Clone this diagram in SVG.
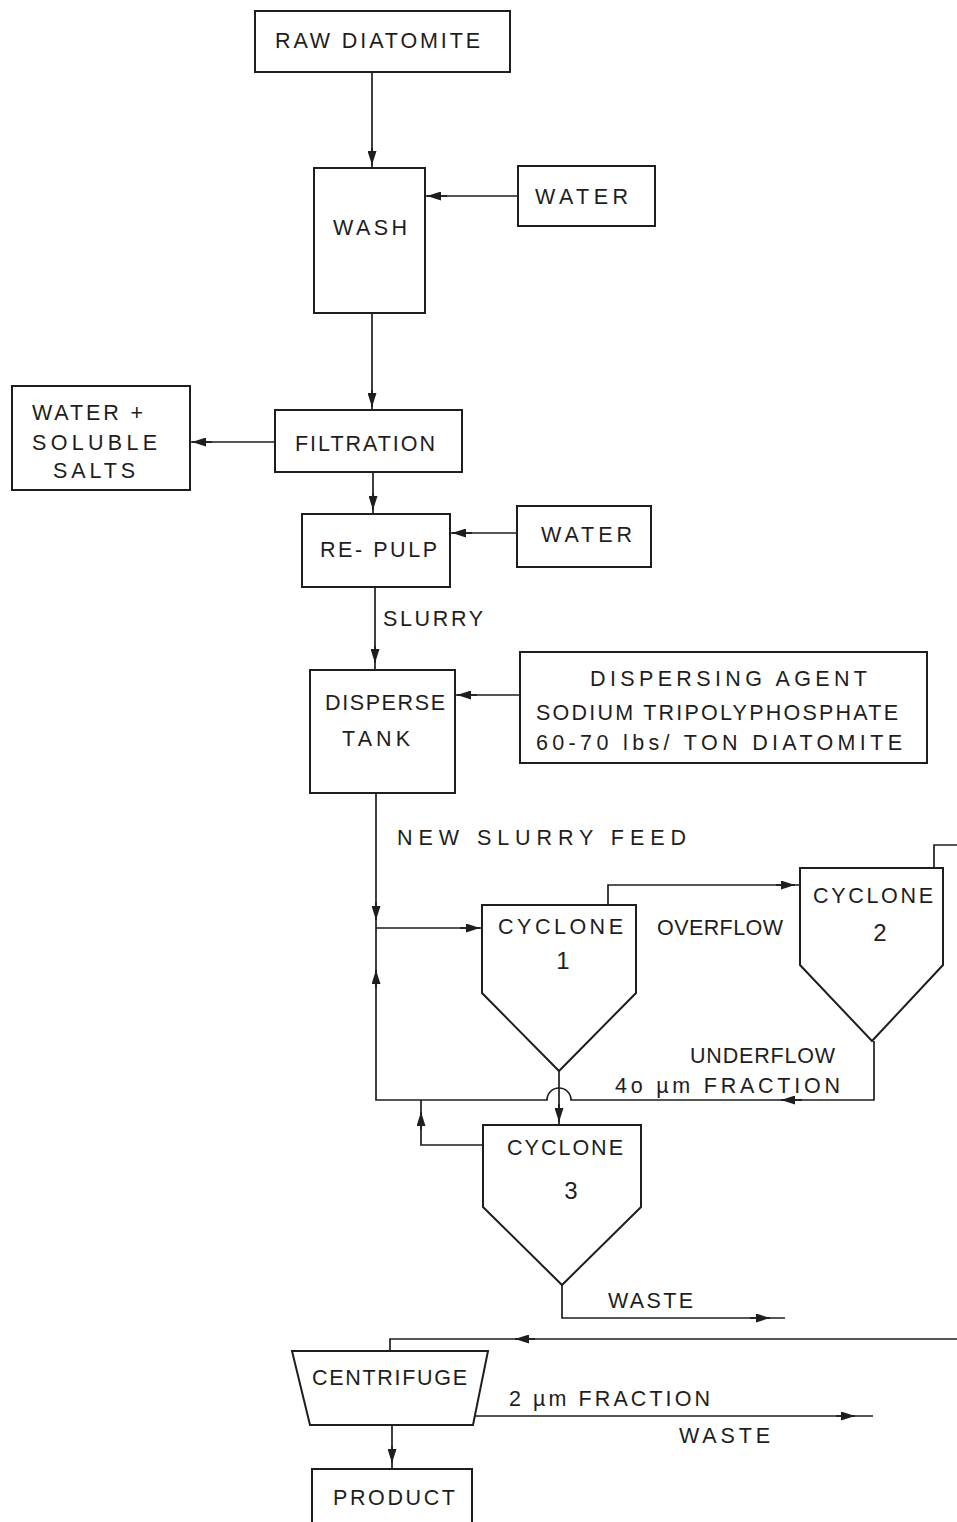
<svg xmlns="http://www.w3.org/2000/svg" width="957" height="1522" viewBox="0 0 957 1522">
<style>
  .bx{fill:#fff;stroke:#1e1e1e;stroke-width:2}
  .ln{fill:none;stroke:#1e1e1e;stroke-width:1.7}
  .ar{fill:none;stroke:#1e1e1e;stroke-width:1.7;marker-end:url(#ah)}
  text{font-family:"Liberation Sans","DejaVu Sans",Arial,sans-serif;font-size:21.5px;fill:#1e1e1e}
  .c{text-anchor:middle}
</style>
<defs>
  <marker id="ah" viewBox="0 0 14 9" refX="14" refY="4.5" markerWidth="14" markerHeight="9" markerUnits="userSpaceOnUse" orient="auto">
    <path d="M0,0 L14,4.5 L0,9 Z" fill="#1e1e1e"/>
  </marker>
</defs>
<rect width="957" height="1522" fill="#fff"/>

<g id="connectors">
  <path class="ln" d="M372,72 V168"/><path class="ar" d="M372,148 V165"/>
  <path class="ln" d="M518,196 H425"/><path class="ar" d="M447,196 H427"/>
  <path class="ln" d="M372,313 V410"/><path class="ar" d="M372,390 V407"/>
  <path class="ln" d="M275,442 H190"/><path class="ar" d="M212,442 H192"/>
  <path class="ln" d="M373,472 V514"/><path class="ar" d="M373,493 V510"/>
  <path class="ln" d="M517,533 H450"/><path class="ar" d="M472,533 H452"/>
  <path class="ln" d="M375,587 V670"/><path class="ar" d="M375,646 V663"/>
  <path class="ln" d="M520,695 H455"/><path class="ar" d="M477,695 H457"/>
  <path class="ln" d="M376,793 V1100 H547 A12,12 0 0 1 571,1100 H874 V1041"/>
  <path class="ar" d="M376,902 V920"/>
  <path class="ar" d="M376,988 V970"/>
  <path class="ar" d="M802,1100 H781"/>
  <path class="ln" d="M376,928 H482"/><path class="ar" d="M460,928 H480"/>
  <path class="ln" d="M608,905 V885 H800"/><path class="ar" d="M776,885 H795"/>
  <path class="ln" d="M559,1071 V1125"/><path class="ar" d="M559,1104 V1122"/>
  <path class="ln" d="M483,1145 H421 V1100"/><path class="ar" d="M421,1130 V1112"/>
  <path class="ln" d="M562,1285 V1318 H785"/><path class="ar" d="M750,1318 H770"/>
  <path class="ln" d="M934,868 V845 H957"/>
  <path class="ln" d="M957,1339 H390 V1351"/><path class="ar" d="M535,1339 H515"/>
  <path class="ln" d="M473,1416 H873"/><path class="ar" d="M836,1416 H855"/>
  <path class="ln" d="M392,1425 V1469"/><path class="ar" d="M392,1446 V1463"/>
</g>

<g id="raw-diatomite"><rect class="bx" x="255" y="11" width="255" height="61"/><text x="275" y="48" textLength="205">RAW DIATOMITE</text></g>
<g id="water-1"><rect class="bx" x="518" y="166" width="137" height="60"/><text x="535" y="204" textLength="93">WATER</text></g>
<g id="wash"><rect class="bx" x="314" y="168" width="111" height="145"/><text x="333" y="235" textLength="74">WASH</text></g>
<g id="filtration"><rect class="bx" x="275" y="410" width="187" height="62"/><text x="295" y="451" textLength="140">FILTRATION</text></g>
<g id="water-salts"><rect class="bx" x="12" y="386" width="178" height="104"/>
  <text x="32" y="420" textLength="111">WATER +</text>
  <text x="32" y="450" textLength="125">SOLUBLE</text>
  <text x="53" y="478" textLength="82">SALTS</text></g>
<g id="re-pulp"><rect class="bx" x="302" y="514" width="148" height="73"/><text x="320" y="557" textLength="117">RE- PULP</text></g>
<g id="water-2"><rect class="bx" x="517" y="506" width="134" height="61"/><text x="541" y="542" textLength="91">WATER</text></g>
<text x="383" y="626" textLength="100">SLURRY</text>
<g id="disperse-tank"><rect class="bx" x="310" y="670" width="145" height="123"/>
  <text x="325" y="710" textLength="120">DISPERSE</text>
  <text x="342" y="746" textLength="68">TANK</text></g>
<g id="dispersing-agent"><rect class="bx" x="520" y="652" width="407" height="111"/>
  <text x="590" y="686" textLength="277">DISPERSING  AGENT</text>
  <text x="536" y="720" textLength="362">SODIUM  TRIPOLYPHOSPHATE</text>
  <text x="536" y="750" textLength="366">60-70 lbs/ TON  DIATOMITE</text></g>
<text x="397" y="845" textLength="289">NEW SLURRY  FEED</text>
<g id="cyclone-1"><polygon class="bx" points="482,905 636,905 636,993 559,1071 482,993"/>
  <text x="498" y="934" textLength="125">CYCLONE</text>
  <text class="c" x="563" y="969" style="font-size:24px">1</text></g>
<text x="657" y="935" textLength="126">OVERFLOW</text>
<g id="cyclone-2"><polygon class="bx" points="800,868 943,868 943,965 872,1041 800,965"/>
  <text x="813" y="903" textLength="120">CYCLONE</text>
  <text class="c" x="880" y="941" style="font-size:24px">2</text></g>
<text x="690" y="1063" textLength="145">UNDERFLOW</text>
<text x="615" y="1093" textLength="225">4o µm FRACTION</text>
<g id="cyclone-3"><polygon class="bx" points="483,1125 641,1125 641,1207 562,1285 483,1207"/>
  <text x="507" y="1155" textLength="116">CYCLONE</text>
  <text class="c" x="571" y="1199" style="font-size:24px">3</text></g>
<text x="608" y="1308" textLength="85">WASTE</text>
<g id="centrifuge"><polygon class="bx" points="292,1351 488,1351 473,1425 310,1425"/>
  <text x="312" y="1385" textLength="155">CENTRIFUGE</text></g>
<text x="509" y="1406" textLength="201">2 µm FRACTION</text>
<text x="679" y="1443" textLength="91">WASTE</text>
<g id="product"><rect class="bx" x="312" y="1469" width="160" height="70"/><text x="333" y="1505" textLength="122">PRODUCT</text></g>
</svg>
